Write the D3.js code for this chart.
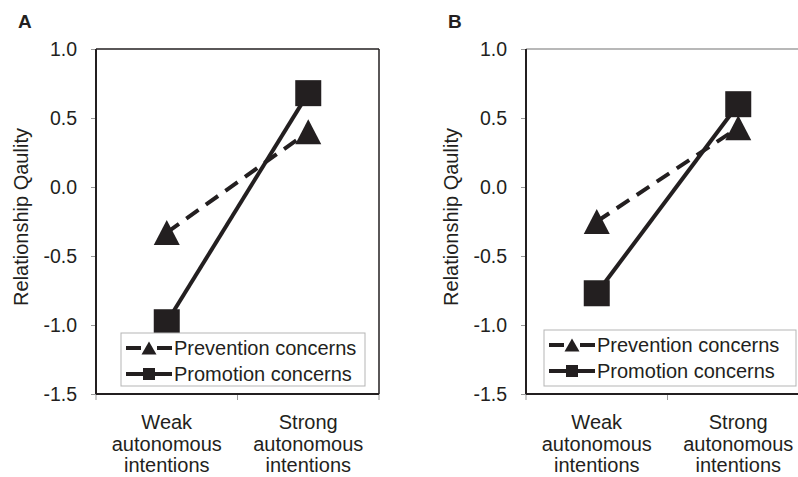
<!DOCTYPE html>
<html>
<head>
<meta charset="utf-8">
<script src="https://cdn.jsdelivr.net/npm/d3@7"></script>
<style>
  body { margin: 0; background: #fff; }
  text { font-family: "Liberation Sans", Arial, sans-serif; fill: #231f20; }
</style>
</head>
<body>
<svg id="chart" width="798" height="477"></svg>
<script>
// data
const categories = ['Weak autonomous intentions', 'Strong autonomous intentions']
const yTicks = [1.0, 0.5, 0.0, -0.5, -1.0, -1.5]
const seriesNames = ['Prevention concerns', 'Promotion concerns']
const preventionA = [-0.33, 0.40]
const promotionA = [-0.98, 0.68]
const preventionB = [-0.25, 0.43]
const promotionB = [-0.77, 0.60]

const ink = '#231f20'
const width = 283
const height = 345

const svg = d3.select('#chart')

function triangle(w, h) {
  const p = d3.path()
  p.moveTo(0, -h / 2)
  p.lineTo(w / 2, h / 2)
  p.lineTo(-w / 2, h / 2)
  p.closePath()
  return p.toString()
}

function drawPanel(opts) {
  const g = svg.append('g').attr('transform', `translate(${opts.left}, 49)`)

  const x = d3.scaleBand().domain(categories).range([0, width])
  const y = d3.scaleLinear().domain([-1.5, 1.0]).range([height, 0])
  const cx = d => x(d) + x.bandwidth() / 2

  // panel letter
  svg.append('text')
    .attr('x', opts.left - 78)
    .attr('y', 28)
    .style('font-size', '19px')
    .style('font-weight', 'bold')
    .text(opts.label)

  // frame (top / right)
  g.append('line')
    .attr('x1', 0).attr('x2', width).attr('y1', 0).attr('y2', 0)
    .attr('stroke', opts.topColor).attr('stroke-width', 1.5)
  g.append('line')
    .attr('x1', width).attr('x2', width).attr('y1', 0).attr('y2', height)
    .attr('stroke', ink).attr('stroke-width', 1.5)

  // y axis
  const yAxis = d3.axisLeft(y)
    .tickValues(yTicks)
    .tickSize(5)
    .tickPadding(14)
    .tickFormat(d => d.toFixed(1))
  const ya = g.append('g').call(yAxis)
  ya.select('.domain').remove()
  ya.selectAll('.tick line').attr('stroke', '#999')
  ya.selectAll('.tick text')
    .style('font-size', '19.5px')
    .style('font-family', '"Liberation Sans", Arial, sans-serif')
    .attr('fill', ink)

  // x ticks at band edges
  const edges = [0].concat(categories.map(c => x(c) + x.bandwidth()))
  g.selectAll('.xtick')
    .data(edges)
    .enter()
    .append('line')
    .attr('x1', d => d).attr('x2', d => d)
    .attr('y1', height).attr('y2', height + 6)
    .attr('stroke', '#999').attr('stroke-width', 1)

  // axis lines
  g.append('line')
    .attr('x1', 0).attr('x2', 0).attr('y1', 0).attr('y2', height)
    .attr('stroke', ink).attr('stroke-width', 2)
  g.append('line')
    .attr('x1', 0).attr('x2', width).attr('y1', height).attr('y2', height)
    .attr('stroke', ink).attr('stroke-width', 2)

  // category labels
  const lab = g.selectAll('.cat')
    .data(categories)
    .enter()
    .append('text')
    .attr('text-anchor', 'middle')
    .style('font-size', '20px')
  lab.selectAll('tspan')
    .data(d => d.split(' ').map(w => ({ w, c: d })))
    .enter()
    .append('tspan')
    .attr('x', d => cx(d.c))
    .attr('y', (d, i) => height + 35 + i * 21.5)
    .text(d => d.w)

  // y label
  svg.append('text')
    .attr('transform', `translate(${opts.left - 68}, 217) rotate(-90)`)
    .attr('text-anchor', 'middle')
    .style('font-size', '20px')
    .text('Relationship Qaulity')

  const line = d3.line().x((d, i) => cx(categories[i])).y(d => y(d))

  // lines
  g.append('path')
    .datum(opts.prevention)
    .attr('d', line)
    .attr('fill', 'none').attr('stroke', ink)
    .attr('stroke-width', 4).attr('stroke-dasharray', '15,9')
  g.append('path')
    .datum(opts.promotion)
    .attr('d', line)
    .attr('fill', 'none').attr('stroke', ink)
    .attr('stroke-width', 4)

  // markers
  g.selectAll('.tri')
    .data(opts.prevention)
    .enter()
    .append('path')
    .attr('d', triangle(26, 25))
    .attr('transform', (d, i) => `translate(${cx(categories[i])}, ${y(d)})`)
    .attr('fill', ink)
  g.selectAll('.sq')
    .data(opts.promotion)
    .enter()
    .append('rect')
    .attr('x', (d, i) => cx(categories[i]) - 13)
    .attr('y', d => y(d) - 13)
    .attr('width', 26).attr('height', 26)
    .attr('fill', ink)

  // legend
  const lg = svg.append('g').attr('transform', `translate(${opts.legend[0]}, ${opts.legend[1]})`)
  lg.append('rect')
    .attr('width', opts.legend[2]).attr('height', opts.legend[3])
    .attr('fill', '#fff').attr('stroke', '#b5b5b5').attr('stroke-width', 1)
  seriesNames.forEach((name, i) => {
    const ry = 15 + i * 26
    lg.append('line')
      .attr('x1', 5).attr('x2', 51).attr('y1', ry).attr('y2', ry)
      .attr('stroke', ink).attr('stroke-width', 4)
      .attr('stroke-dasharray', i === 0 ? '15,16,15' : null)
    if (i === 0) {
      lg.append('path').attr('d', triangle(15, 13))
        .attr('transform', `translate(28, ${ry})`).attr('fill', ink)
    } else {
      lg.append('rect').attr('x', 22).attr('y', ry - 6)
        .attr('width', 12).attr('height', 12).attr('fill', ink)
    }
    lg.append('text')
      .attr('x', 53).attr('y', ry + 7)
      .style('font-size', '20px')
      .text(name)
  })
}

drawPanel({ label: 'A', left: 96, topColor: ink, prevention: preventionA, promotion: promotionA, legend: [121, 333, 244, 53] })
drawPanel({ label: 'B', left: 526, topColor: '#a0a0a0', prevention: preventionB, promotion: promotionB, legend: [544, 330, 252, 56] })
</script>
</body>
</html>
